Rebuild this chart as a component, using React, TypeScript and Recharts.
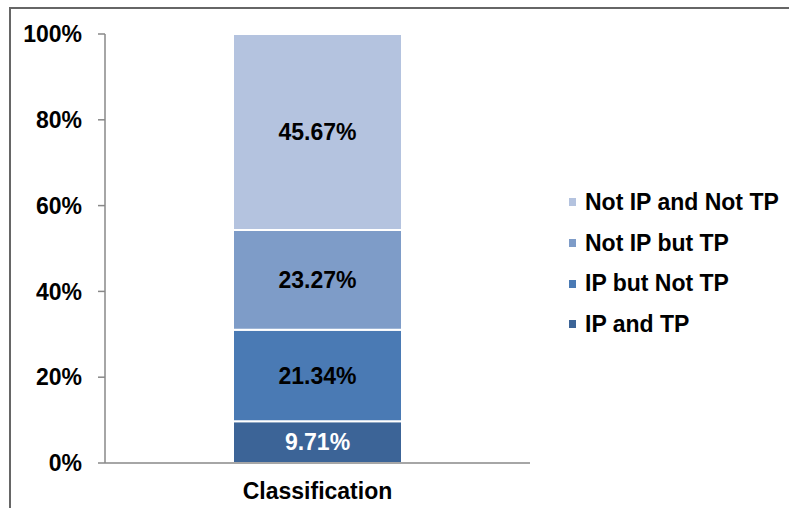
import React from 'react';
import { BarChart, Bar, XAxis, YAxis, Legend, LabelList } from 'recharts';

const categories = ['Classification'];
const seriesNames = ['IP and TP', 'IP but Not TP', 'Not IP but TP', 'Not IP and Not TP'];
const ipAndTp = [9.71];
const ipButNotTp = [21.34];
const notIpButTp = [23.27];
const notIpAndNotTp = [45.67];
const yTicks = [0, 20, 40, 60, 80, 100];

const seriesValues = [ipAndTp, ipButNotTp, notIpButTp, notIpAndNotTp];
const colors = ['#3C6497', '#4A7AB4', '#7E9CC8', '#B4C3DF'];
const labelColors = ['#ffffff', '#000000', '#000000', '#000000'];

const data = categories.map((name, i) => {
  const row: Record<string, string | number> = { name };
  seriesNames.forEach((s, k) => {
    row[s] = seriesValues[k][i];
  });
  return row;
});

const FONT = '"Liberation Sans", Arial, sans-serif';
const FONT_SIZE = 23;

const LegendBox = () => (
  <div style={{ fontFamily: FONT, fontWeight: 'bold', fontSize: FONT_SIZE, color: '#000' }}>
    {[...seriesNames].reverse().map((s) => {
      const idx = seriesNames.indexOf(s);
      return (
        <div key={s} style={{ display: 'flex', alignItems: 'center', height: 40.7, whiteSpace: 'nowrap' }}>
          <span style={{ display: 'inline-block', width: 7, height: 8, background: colors[idx], marginRight: 9 }} />
          <span>{s}</span>
        </div>
      );
    })}
  </div>
);

export default function App() {
  return (
    <div style={{ position: 'absolute', left: 0, top: 0, width: 789, height: 508, overflow: 'hidden', background: '#fff' }}>
      <div
        style={{
          position: 'absolute',
          left: 9,
          top: 7,
          width: 900,
          height: 600,
          borderTop: '2px solid #666',
          borderLeft: '2px solid #666',
        }}
      />
      <BarChart
        width={789}
        height={508}
        data={data}
        margin={{ top: 34, right: 259, bottom: 0, left: 0 }}
        barSize={169}
        style={{ position: 'absolute', left: 0, top: 0 }}
      >
        <XAxis
          xAxisId="edges"
          type="number"
          domain={[0, 1]}
          ticks={[0, 1]}
          height={0}
          axisLine={false}
          tick={false}
          tickSize={7}
          tickLine={{ stroke: '#888', strokeWidth: 1.5 }}
        />
        <XAxis
          dataKey="name"
          height={45}
          axisLine={{ stroke: '#888', strokeWidth: 1.5 }}
          tickLine={false}
          tickSize={0}
          tickMargin={20}
          tick={{ fill: '#000', fontFamily: FONT, fontWeight: 'bold', fontSize: FONT_SIZE }}
        />
        <YAxis
          width={105}
          domain={[0, 100]}
          ticks={yTicks}
          tickFormatter={(v: number) => `${v}%`}
          axisLine={{ stroke: '#888', strokeWidth: 1.5 }}
          tickLine={{ stroke: '#888', strokeWidth: 1.5 }}
          tickSize={7}
          tickMargin={16}
          tick={{ fill: '#000', fontFamily: FONT, fontWeight: 'bold', fontSize: FONT_SIZE }}
        />
        <Legend
          layout="vertical"
          align="center"
          verticalAlign="middle"
          content={() => <LegendBox />}
          wrapperStyle={{ left: 569, top: 182, width: 220 }}
        />
        {seriesNames.map((s, k) => (
          <Bar
            key={s}
            dataKey={s}
            stackId="a"
            fill={colors[k]}
            stroke="#ffffff"
            strokeWidth={2}
            isAnimationActive={false}
          >
            <LabelList
              dataKey={s}
              position="center"
              formatter={(v: number) => `${Number(v).toFixed(2)}%`}
              fill={labelColors[k]}
              style={{ fontFamily: FONT, fontWeight: 'bold', fontSize: FONT_SIZE }}
            />
          </Bar>
        ))}
      </BarChart>
    </div>
  );
}
